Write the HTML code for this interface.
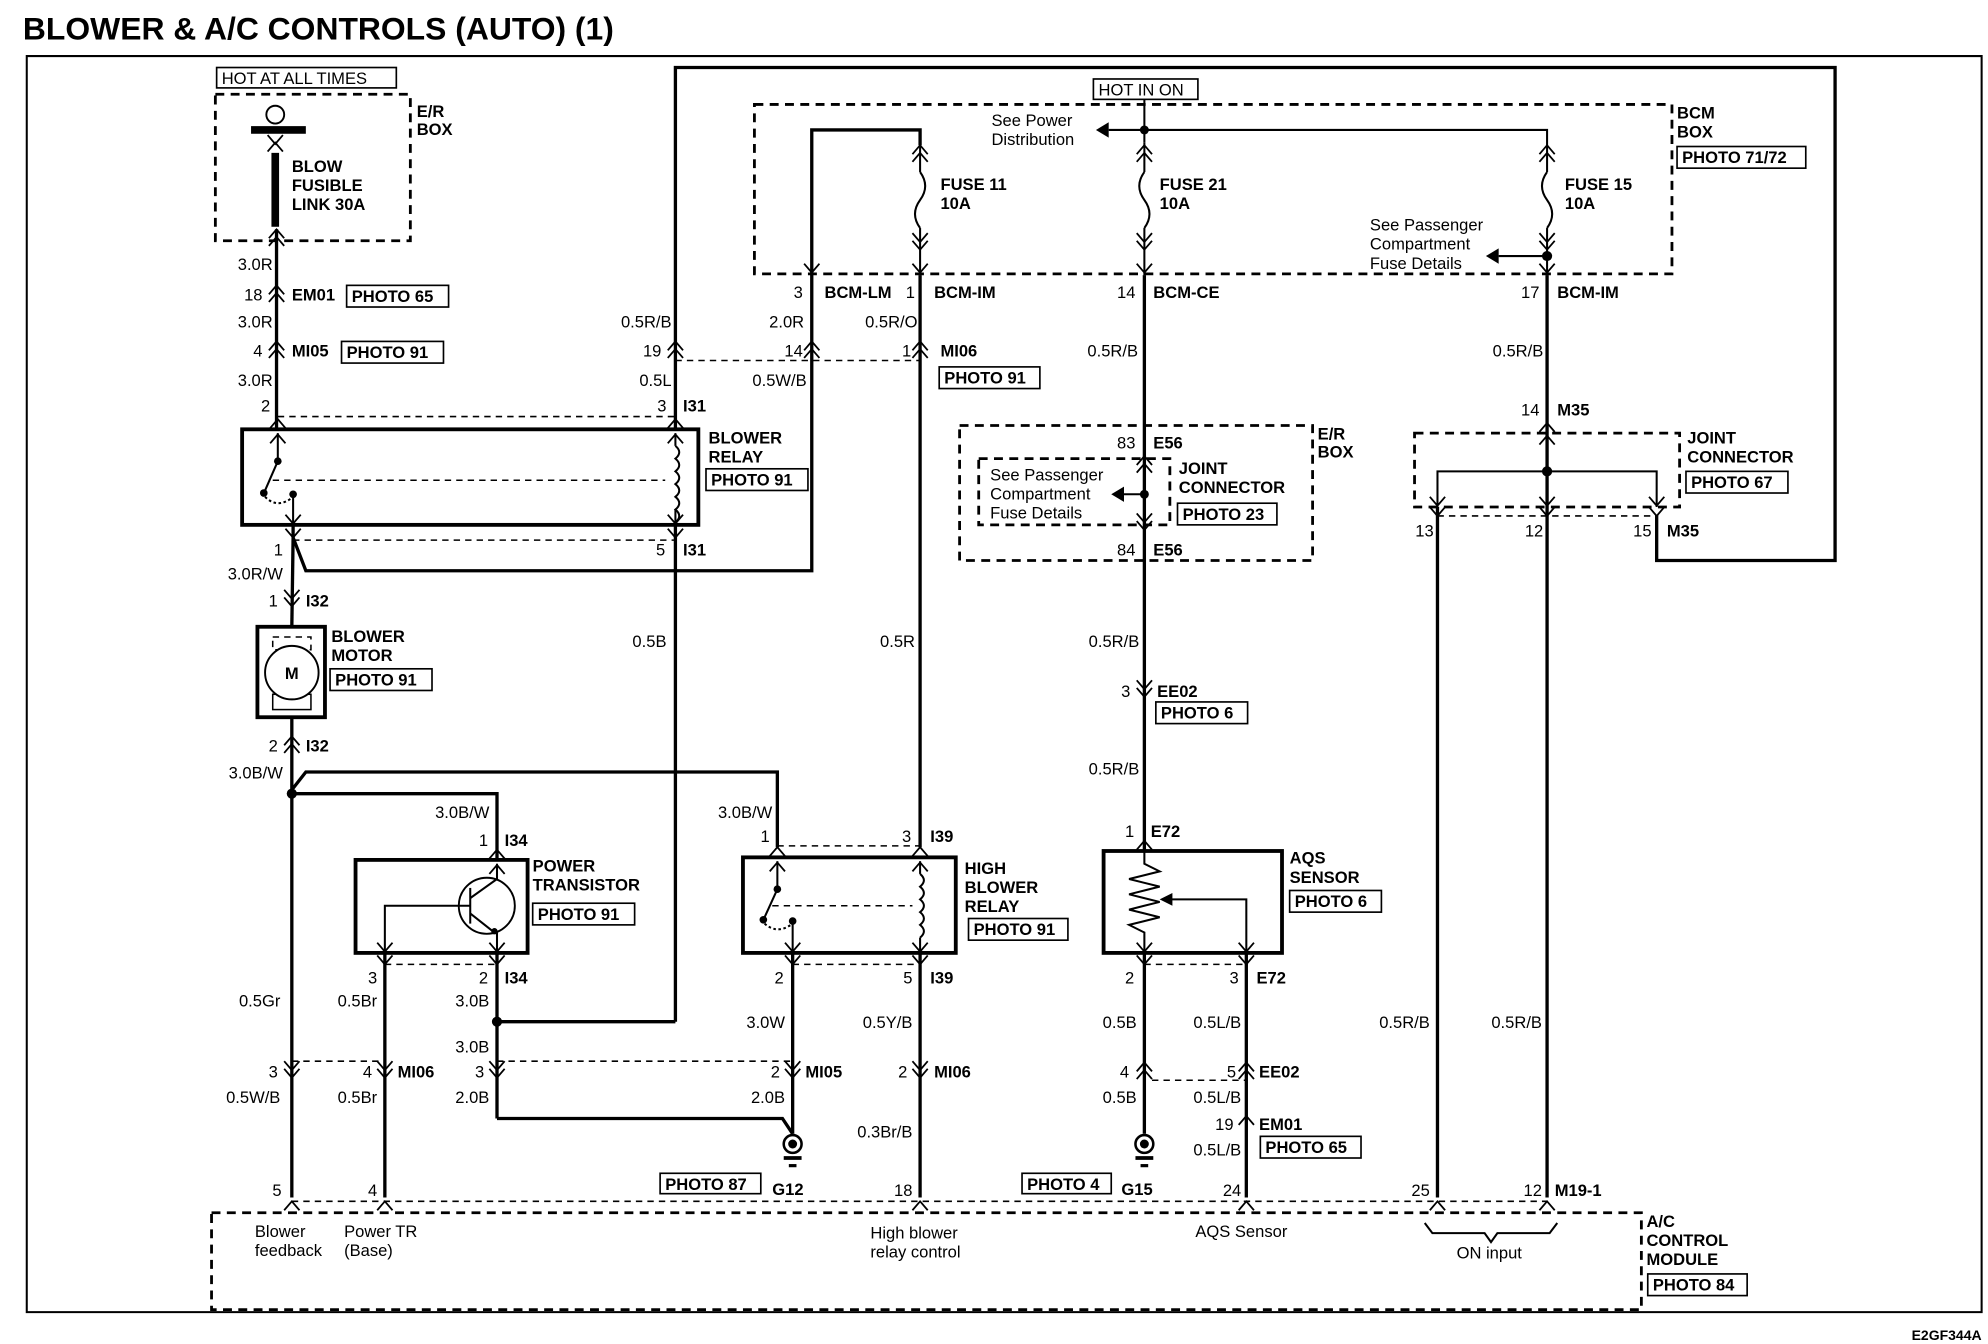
<!DOCTYPE html>
<html><head><meta charset="utf-8"><style>
html,body{margin:0;padding:0;background:#fff}
svg{display:block}
text{font-family:"Liberation Sans",Arial,sans-serif;font-size:13px;fill:#000}
.b{font-weight:bold}
.r{text-anchor:end}
.w{stroke:#000;stroke-width:2.6;fill:none}
.tw{stroke:#000;stroke-width:1.6;fill:none}
.bx{stroke:#000;stroke-width:3;fill:none}
.ds{stroke:#000;stroke-width:2.2;fill:none;stroke-dasharray:7,5}
.dt{stroke:#000;stroke-width:1.2;fill:none;stroke-dasharray:5,4}
.pb{stroke:#000;stroke-width:1.3;fill:#fff}
</style></head><body>
<svg width="1988" height="1344" viewBox="0 0 1560 1055" preserveAspectRatio="none" xmlns="http://www.w3.org/2000/svg">
<defs>
<path id="u" d="M-6,7 L0,0 L6,7" fill="none" stroke="#000" stroke-width="1.4"/>
<path id="d" d="M-6,-7 L0,0 L6,-7" fill="none" stroke="#000" stroke-width="1.4"/>
<g id="uu"><use href="#u"/><use href="#u" y="6"/></g>
<g id="dd"><use href="#d"/><use href="#d" y="6"/></g>
<g id="gnd"><circle cx="0" cy="0" r="7" fill="#fff" stroke="#000" stroke-width="2"/><circle cx="0" cy="0" r="3.5" fill="#000"/><line x1="-7" y1="11" x2="7" y2="11" stroke="#000" stroke-width="3"/><line x1="-3" y1="17" x2="3" y2="17" stroke="#000" stroke-width="2.5"/></g>
</defs>

<text x="18" y="31" class="b" style="font-size:25px">BLOWER &amp; A/C CONTROLS (AUTO) (1)</text>
<path d="M21,1030 L21,44 L1555,44 L1555,1030 Z" class="tw" stroke-width="1.8"/>
<text x="1555" y="1052" class="b r" style="font-size:11px">E2GF344A</text>

<rect x="170" y="53" width="141" height="16" class="pb"/><text x="174" y="66">HOT AT ALL TIMES</text>
<rect x="169" y="74" width="153" height="115" class="ds"/>
<text x="327" y="92" class="b">E/R</text><text x="327" y="106" class="b">BOX</text>
<circle cx="216" cy="90" r="7" fill="#fff" stroke="#000" stroke-width="1.5"/>
<rect x="197" y="99" width="43" height="6" fill="#000"/>
<use href="#d" x="216" y="113"/><use href="#u" x="216" y="112"/>
<rect x="213" y="120" width="6" height="58" fill="#000"/>
<text x="229" y="135" class="b">BLOW</text><text x="229" y="150" class="b">FUSIBLE</text><text x="229" y="165" class="b">LINK 30A</text>
<use href="#uu" x="217" y="180"/>
<line x1="217" y1="180" x2="217" y2="337" class="w"/>
<text x="214" y="212" class="r">3.0R</text>
<use href="#uu" x="217" y="224"/><text x="206" y="236" class="r">18</text><text x="229" y="236" class="b">EM01</text>
<rect x="272" y="224" width="80" height="17" class="pb"/><text x="276" y="237" class="b">PHOTO 65</text>
<text x="214" y="257" class="r">3.0R</text>
<use href="#uu" x="217" y="268"/><text x="206" y="280" class="r">4</text><text x="229" y="280" class="b">MI05</text>
<rect x="268" y="268" width="80" height="17" class="pb"/><text x="272" y="281" class="b">PHOTO 91</text>
<text x="214" y="303" class="r">3.0R</text>
<text x="212" y="323" class="r">2</text>
<line x1="218" y1="327" x2="530" y2="327" class="dt"/>
<use href="#u" x="218" y="329"/>

<path d="M530,337 L530,53 L1440,53 L1440,440 L1300,440 L1300,404" class="w"/>
<text x="527" y="257" class="r">0.5R/B</text>
<use href="#uu" x="530" y="268"/><text x="519" y="280" class="r">19</text>
<text x="527" y="303" class="r">0.5L</text>
<text x="523" y="323" class="r">3</text><text x="536" y="323" class="b">I31</text>
<use href="#u" x="530" y="329"/>
<line x1="530" y1="283" x2="722" y2="283" class="dt"/>

<rect x="190" y="337" width="358" height="75" class="bx"/>
<text x="556" y="348" class="b">BLOWER</text><text x="556" y="363" class="b">RELAY</text>
<rect x="554" y="368" width="80" height="17" class="pb"/><text x="558" y="381" class="b">PHOTO 91</text>
<line x1="218" y1="340" x2="218" y2="362" class="tw"/><use href="#u" x="218" y="341"/>
<circle cx="218" cy="362" r="3" fill="#000"/>
<line x1="218" y1="362" x2="208" y2="385" class="tw"/>
<circle cx="207" cy="387" r="3" fill="#000"/><circle cx="230" cy="388" r="3" fill="#000"/>
<path d="M208,390 Q218,400 230,390" class="tw" stroke-dasharray="2,2"/>
<line x1="230" y1="388" x2="230" y2="412" class="tw"/><use href="#d" x="230" y="411"/>
<line x1="214" y1="377" x2="522" y2="377" class="dt" stroke-width="1.6"/>
<line x1="530" y1="340" x2="530" y2="350" class="tw"/><use href="#u" x="530" y="341"/>
<path d="M530,350 q6,5 0,10 q6,5 0,10 q6,5 0,10 q6,5 0,10 q6,5 0,10 q6,5 0,10" class="tw"/>
<line x1="530" y1="400" x2="530" y2="412" class="tw"/><use href="#d" x="530" y="411"/>
<line x1="230" y1="424" x2="530" y2="424" class="dt"/>
<use href="#d" x="230" y="422"/><use href="#d" x="530" y="422"/>
<text x="222" y="436" class="r">1</text><text x="522" y="436" class="r">5</text><text x="536" y="436" class="b">I31</text>
<path d="M230,412 L230,422 L240,448 L637,448 L637,102 L722,102 L722,114" class="w"/>
<line x1="530" y1="412" x2="530" y2="802" class="w"/>
<line x1="530" y1="802" x2="390" y2="802" class="w"/>
<circle cx="390" cy="802" r="4" fill="#000"/>
<text x="523" y="508" class="r">0.5B</text>

<line x1="230" y1="422" x2="229" y2="492" class="w"/>
<text x="222" y="455" class="r">3.0R/W</text>
<use href="#dd" x="229" y="470"/><text x="218" y="476" class="r">1</text><text x="240" y="476" class="b">I32</text>
<rect x="202" y="492" width="53" height="71" class="bx"/>
<rect x="214" y="500" width="30" height="10" class="dt" stroke-width="1"/>
<rect x="214" y="545" width="30" height="12" fill="none" stroke="#000" stroke-width="1.2"/>
<circle cx="229" cy="528" r="21" fill="#fff" stroke="#000" stroke-width="1.5"/>
<text x="229" y="533" class="b" style="text-anchor:middle">M</text>
<text x="260" y="504" class="b">BLOWER</text><text x="260" y="519" class="b">MOTOR</text>
<rect x="259" y="525" width="80" height="17" class="pb"/><text x="263" y="538" class="b">PHOTO 91</text>
<line x1="229" y1="563" x2="229" y2="940" class="w"/>
<use href="#uu" x="229" y="578"/><text x="218" y="590" class="r">2</text><text x="240" y="590" class="b">I32</text>
<text x="222" y="611" class="r">3.0B/W</text>
<path d="M229,620 L240,606 L610,606 L610,665" class="w"/>
<path d="M229,623 L390,623 L390,675" class="w"/>
<circle cx="229" cy="623" r="4" fill="#000"/>

<text x="384" y="642" class="r">3.0B/W</text>
<text x="383" y="664" class="r">1</text><text x="396" y="664" class="b">I34</text>
<use href="#u" x="390" y="667"/>
<rect x="279" y="675" width="135" height="73" class="bx"/>
<text x="418" y="684" class="b">POWER</text><text x="418" y="699" class="b">TRANSISTOR</text>
<rect x="418" y="709" width="80" height="17" class="pb"/><text x="422" y="722" class="b">PHOTO 91</text>
<line x1="390" y1="678" x2="390" y2="690" class="tw"/><use href="#u" x="390" y="679"/>
<circle cx="382" cy="711" r="22" fill="none" stroke="#000" stroke-width="1.5"/>
<line x1="369" y1="697" x2="369" y2="725" class="tw"/>
<path d="M390,690 L369,705 M369,717 L388,732" class="tw"/>
<circle cx="388" cy="731" r="2.5" fill="#000"/>
<line x1="390" y1="732" x2="390" y2="748" class="tw"/><use href="#d" x="390" y="747"/>
<path d="M369,711 L302,711 L302,748" class="tw"/><use href="#d" x="302" y="747"/>
<line x1="302" y1="757" x2="390" y2="757" class="dt"/>
<use href="#d" x="302" y="757"/><use href="#d" x="390" y="757"/>
<text x="296" y="772" class="r">3</text><text x="383" y="772" class="r">2</text><text x="396" y="772" class="b">I34</text>
<line x1="302" y1="748" x2="302" y2="940" class="w"/>
<line x1="390" y1="748" x2="390" y2="878" class="w"/>
<text x="220" y="790" class="r">0.5Gr</text><text x="296" y="790" class="r">0.5Br</text><text x="384" y="790" class="r">3.0B</text>
<text x="384" y="826" class="r">3.0B</text>
<line x1="229" y1="833" x2="302" y2="833" class="dt"/>
<line x1="390" y1="833" x2="622" y2="833" class="dt"/>
<use href="#dd" x="229" y="840"/><use href="#dd" x="302" y="840"/><use href="#dd" x="390" y="840"/><use href="#dd" x="622" y="840"/><use href="#dd" x="722" y="840"/>
<text x="218" y="846" class="r">3</text><text x="292" y="846" class="r">4</text><text x="312" y="846" class="b">MI06</text>
<text x="380" y="846" class="r">3</text><text x="612" y="846" class="r">2</text><text x="632" y="846" class="b">MI05</text>
<text x="712" y="846" class="r">2</text><text x="733" y="846" class="b">MI06</text>
<text x="220" y="866" class="r">0.5W/B</text><text x="296" y="866" class="r">0.5Br</text><text x="384" y="866" class="r">2.0B</text>
<text x="616" y="866" class="r">2.0B</text><text x="716" y="893" class="r">0.3Br/B</text>
<path d="M390,878 L614,878 L622,890" class="w"/>
<use href="#gnd" x="622" y="898"/>
<rect x="518" y="921" width="79" height="16" class="pb"/><text x="522" y="934" class="b">PHOTO 87</text>
<text x="606" y="938" class="b">G12</text>

<rect x="592" y="82" width="720" height="133" class="ds"/>
<text x="1316" y="93" class="b">BCM</text><text x="1316" y="108" class="b">BOX</text>
<rect x="1316" y="115" width="101" height="17" class="pb"/><text x="1320" y="128" class="b">PHOTO 71/72</text>
<rect x="858" y="62" width="82" height="16" class="pb"/><text x="862" y="75">HOT IN ON</text>
<line x1="898" y1="78" x2="898" y2="112" class="tw"/>
<path d="M898,102 L1214,102 L1214,114" class="tw"/>
<line x1="898" y1="102" x2="870" y2="102" class="tw"/>
<path d="M870,96 L860,102 L870,108 Z" fill="#000"/>
<circle cx="898" cy="102" r="3.5" fill="#000"/>
<text x="778" y="99">See Power</text><text x="778" y="114">Distribution</text>
<g>
<use href="#uu" x="722" y="114"/><line x1="722" y1="114" x2="722" y2="135" class="tw"/>
<path d="M722,135 q8,11 0,22 q-8,11 0,22" class="tw"/>
<line x1="722" y1="179" x2="722" y2="216" class="tw"/><use href="#dd" x="722" y="190"/><use href="#d" x="722" y="214"/>
<text x="738" y="149" class="b">FUSE 11</text><text x="738" y="164" class="b">10A</text>
<use href="#uu" x="898" y="114"/><line x1="898" y1="112" x2="898" y2="135" class="tw"/>
<path d="M898,135 q-8,11 0,22 q8,11 0,22" class="tw"/>
<line x1="898" y1="179" x2="898" y2="216" class="tw"/><use href="#dd" x="898" y="190"/><use href="#d" x="898" y="214"/>
<text x="910" y="149" class="b">FUSE 21</text><text x="910" y="164" class="b">10A</text>
<use href="#uu" x="1214" y="114"/><line x1="1214" y1="114" x2="1214" y2="135" class="tw"/>
<path d="M1214,135 q-8,11 0,22 q8,11 0,22" class="tw"/>
<line x1="1214" y1="179" x2="1214" y2="216" class="tw"/><use href="#dd" x="1214" y="190"/><use href="#d" x="1214" y="214"/>
<text x="1228" y="149" class="b">FUSE 15</text><text x="1228" y="164" class="b">10A</text>
<circle cx="1214" cy="201" r="4" fill="#000"/><line x1="1214" y1="201" x2="1176" y2="201" class="tw"/>
<path d="M1176,195 L1166,201 L1176,207 Z" fill="#000"/>
<text x="1075" y="181">See Passenger</text><text x="1075" y="196">Compartment</text><text x="1075" y="211">Fuse Details</text>
</g>
<use href="#d" x="637" y="214"/>
<text x="630" y="234" class="r">3</text><text x="647" y="234" class="b">BCM-LM</text><text x="718" y="234" class="r">1</text><text x="733" y="234" class="b">BCM-IM</text>
<text x="891" y="234" class="r">14</text><text x="905" y="234" class="b">BCM-CE</text>
<text x="1208" y="234" class="r">17</text><text x="1222" y="234" class="b">BCM-IM</text>
<text x="631" y="257" class="r">2.0R</text><text x="720" y="257" class="r">0.5R/O</text>
<use href="#uu" x="637" y="268"/><use href="#uu" x="722" y="268"/>
<text x="630" y="280" class="r">14</text><text x="715" y="280" class="r">1</text><text x="738" y="280" class="b">MI06</text>
<rect x="737" y="288" width="79" height="17" class="pb"/><text x="741" y="301" class="b">PHOTO 91</text>
<text x="633" y="303" class="r">0.5W/B</text>
<line x1="722" y1="216" x2="722" y2="665" class="w"/>
<text x="718" y="508" class="r">0.5R</text>
<line x1="898" y1="216" x2="898" y2="668" class="w"/>
<text x="893" y="280" class="r">0.5R/B</text>
<line x1="1214" y1="216" x2="1214" y2="345" class="w"/>
<text x="1211" y="280" class="r">0.5R/B</text>

<rect x="753" y="334" width="277" height="106" class="ds"/>
<text x="1034" y="345" class="b">E/R</text><text x="1034" y="359" class="b">BOX</text>
<text x="891" y="352" class="r">83</text><text x="905" y="352" class="b">E56</text>
<use href="#uu" x="898" y="358"/>
<rect x="768" y="360" width="150" height="52" class="ds" stroke-width="1.8"/>
<circle cx="898" cy="388" r="3.5" fill="#000"/><line x1="898" y1="388" x2="880" y2="388" class="tw"/>
<path d="M882,382 L872,388 L882,394 Z" fill="#000"/>
<text x="777" y="377">See Passenger</text><text x="777" y="392">Compartment</text><text x="777" y="407">Fuse Details</text>
<use href="#dd" x="898" y="410"/>
<text x="925" y="372" class="b">JOINT</text><text x="925" y="387" class="b">CONNECTOR</text>
<rect x="924" y="395" width="78" height="17" class="pb"/><text x="928" y="408" class="b">PHOTO 23</text>
<text x="891" y="436" class="r">84</text><text x="905" y="436" class="b">E56</text>
<text x="894" y="508" class="r">0.5R/B</text>
<use href="#dd" x="898" y="541"/><text x="887" y="547" class="r">3</text><text x="908" y="547" class="b">EE02</text>
<rect x="907" y="551" width="72" height="17" class="pb"/><text x="911" y="564" class="b">PHOTO 6</text>
<text x="894" y="608" class="r">0.5R/B</text>
<text x="890" y="657" class="r">1</text><text x="903" y="657" class="b">E72</text>
<use href="#u" x="898" y="660"/>

<rect x="866" y="668" width="140" height="80" class="bx"/>
<text x="1012" y="678" class="b">AQS</text><text x="1012" y="693" class="b">SENSOR</text>
<rect x="1012" y="699" width="72" height="17" class="pb"/><text x="1016" y="712" class="b">PHOTO 6</text>
<path d="M898,668 L898,678 L910,684 L886,690 L910,696 L886,702 L910,708 L886,714 L910,720 L886,726 L898,732 L898,748" class="tw"/>
<path d="M978,748 L978,706 L918,706" class="tw"/>
<path d="M920,701 L910,706 L920,711 Z" fill="#000"/>
<use href="#d" x="898" y="747"/><use href="#d" x="978" y="747"/>
<line x1="898" y1="757" x2="978" y2="757" class="dt"/>
<use href="#d" x="898" y="757"/><use href="#d" x="978" y="757"/>
<text x="890" y="772" class="r">2</text><text x="972" y="772" class="r">3</text><text x="986" y="772" class="b">E72</text>
<line x1="898" y1="748" x2="898" y2="890" class="w"/>
<line x1="978" y1="748" x2="978" y2="940" class="w"/>
<text x="892" y="807" class="r">0.5B</text><text x="974" y="807" class="r">0.5L/B</text>
<use href="#uu" x="898" y="834"/><use href="#uu" x="978" y="834"/>
<line x1="904" y1="848" x2="978" y2="848" class="dt"/>
<text x="886" y="846" class="r">4</text><text x="970" y="846" class="r">5</text><text x="988" y="846" class="b">EE02</text>
<text x="892" y="866" class="r">0.5B</text><text x="974" y="866" class="r">0.5L/B</text>
<use href="#u" x="978" y="876"/><text x="968" y="887" class="r">19</text><text x="988" y="887" class="b">EM01</text>
<rect x="989" y="892" width="79" height="17" class="pb"/><text x="993" y="905" class="b">PHOTO 65</text>
<text x="974" y="907" class="r">0.5L/B</text>
<use href="#gnd" x="898" y="898"/>
<rect x="802" y="921" width="70" height="16" class="pb"/><text x="806" y="934" class="b">PHOTO 4</text>
<text x="880" y="938" class="b">G15</text>

<text x="606" y="642" class="r">3.0B/W</text>
<text x="604" y="661" class="r">1</text><text x="715" y="661" class="r">3</text><text x="730" y="661" class="b">I39</text>
<line x1="610" y1="664" x2="722" y2="664" class="dt"/>
<use href="#u" x="610" y="665"/><use href="#u" x="722" y="665"/>
<rect x="583" y="673" width="167" height="75" class="bx"/>
<text x="757" y="686" class="b">HIGH</text><text x="757" y="701" class="b">BLOWER</text><text x="757" y="716" class="b">RELAY</text>
<rect x="760" y="721" width="78" height="17" class="pb"/><text x="764" y="734" class="b">PHOTO 91</text>
<line x1="610" y1="676" x2="610" y2="698" class="tw"/><use href="#u" x="610" y="677"/>
<circle cx="610" cy="698" r="3" fill="#000"/><line x1="610" y1="698" x2="600" y2="720" class="tw"/>
<circle cx="599" cy="722" r="3" fill="#000"/><circle cx="622" cy="723" r="3" fill="#000"/>
<path d="M600,725 Q610,734 622,725" class="tw" stroke-dasharray="2,2"/>
<line x1="622" y1="723" x2="622" y2="748" class="tw"/><use href="#d" x="622" y="747"/>
<line x1="606" y1="711" x2="716" y2="711" class="dt" stroke-width="1.6"/>
<line x1="722" y1="676" x2="722" y2="686" class="tw"/><use href="#u" x="722" y="677"/>
<path d="M722,686 q6,5 0,10 q6,5 0,10 q6,5 0,10 q6,5 0,10 q6,5 0,10" class="tw"/>
<line x1="722" y1="736" x2="722" y2="748" class="tw"/><use href="#d" x="722" y="747"/>
<line x1="622" y1="757" x2="722" y2="757" class="dt"/>
<use href="#d" x="622" y="757"/><use href="#d" x="722" y="757"/>
<text x="615" y="772" class="r">2</text><text x="716" y="772" class="r">5</text><text x="730" y="772" class="b">I39</text>
<line x1="622" y1="748" x2="622" y2="890" class="w"/>
<line x1="722" y1="748" x2="722" y2="940" class="w"/>
<text x="616" y="807" class="r">3.0W</text><text x="716" y="807" class="r">0.5Y/B</text>

<text x="1208" y="326" class="r">14</text><text x="1222" y="326" class="b">M35</text>
<use href="#u" x="1214" y="332"/>
<rect x="1110" y="340" width="208" height="58" class="ds"/>
<use href="#u" x="1214" y="342"/>
<line x1="1214" y1="345" x2="1214" y2="940" class="w"/>
<path d="M1128,398 L1128,370 L1300,370 L1300,398" class="tw"/>
<circle cx="1214" cy="370" r="4" fill="#000"/>
<use href="#d" x="1128" y="397"/><use href="#d" x="1214" y="397"/><use href="#d" x="1300" y="397"/>
<line x1="1128" y1="405" x2="1300" y2="405" class="dt"/>
<use href="#d" x="1128" y="405"/><use href="#d" x="1214" y="405"/><use href="#d" x="1300" y="405"/>
<text x="1324" y="348" class="b">JOINT</text><text x="1324" y="363" class="b">CONNECTOR</text>
<rect x="1323" y="370" width="80" height="17" class="pb"/><text x="1327" y="383" class="b">PHOTO 67</text>
<text x="1125" y="421" class="r">13</text><text x="1211" y="421" class="r">12</text><text x="1296" y="421" class="r">15</text><text x="1308" y="421" class="b">M35</text>
<line x1="1128" y1="398" x2="1128" y2="940" class="w"/>
<text x="1122" y="807" class="r">0.5R/B</text><text x="1210" y="807" class="r">0.5R/B</text>

<text x="221" y="939" class="r">5</text><text x="296" y="939" class="r">4</text><text x="716" y="939" class="r">18</text>
<text x="974" y="939" class="r">24</text><text x="1122" y="939" class="r">25</text><text x="1210" y="939" class="r">12</text><text x="1220" y="939" class="b">M19-1</text>
<line x1="229" y1="943" x2="1214" y2="943" class="dt"/>
<use href="#u" x="229" y="943"/><use href="#u" x="302" y="943"/><use href="#u" x="722" y="943"/><use href="#u" x="978" y="943"/><use href="#u" x="1128" y="943"/><use href="#u" x="1214" y="943"/>
<rect x="166" y="952" width="1122" height="76" class="ds"/>
<text x="200" y="971">Blower</text><text x="200" y="986">feedback</text>
<text x="270" y="971">Power TR</text><text x="270" y="986">(Base)</text>
<text x="683" y="972">High blower</text><text x="683" y="987">relay control</text>
<text x="938" y="971">AQS Sensor</text>
<path d="M1118,960 L1124,968 L1165,968 L1170,975 L1175,968 L1216,968 L1222,960" class="tw"/>
<text x="1143" y="988">ON input</text>
<text x="1292" y="963" class="b">A/C</text><text x="1292" y="978" class="b">CONTROL</text><text x="1292" y="993" class="b">MODULE</text>
<rect x="1293" y="1000" width="78" height="17" class="pb"/><text x="1297" y="1013" class="b">PHOTO 84</text>
</svg>
</body></html>
